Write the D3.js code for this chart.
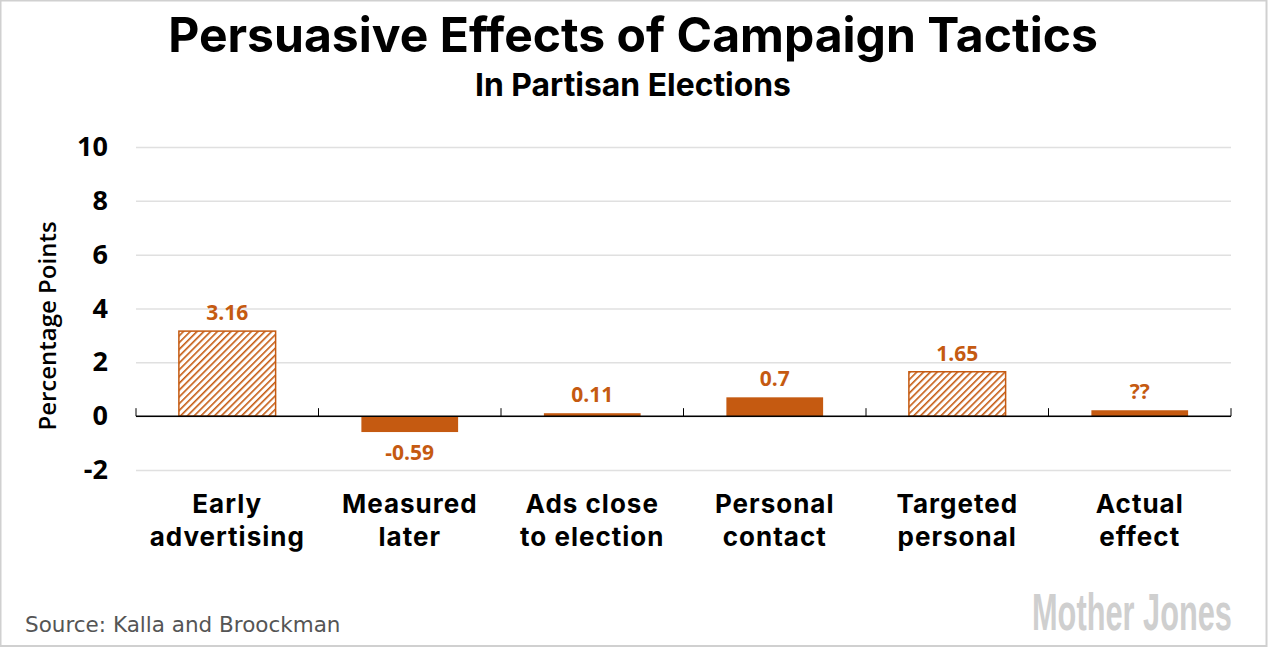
<!DOCTYPE html>
<html>
<head>
<meta charset="utf-8">
<script src="https://cdn.jsdelivr.net/npm/d3@7"></script>
<style>
  body { margin: 0; background: #fff; }
  svg { display: block; }
</style>
</head>
<body>
<div id="chart"></div>
<script>
var categories = [['Early', 'advertising'], ['Measured', 'later'], ['Ads close', 'to election'],
  ['Personal', 'contact'], ['Targeted', 'personal'], ['Actual', 'effect']];
var values = [3.16, -0.59, 0.11, 0.7, 1.65, 0.22];
var valueLabels = ['3.16', '-0.59', '0.11', '0.7', '1.65', '??'];
var hatched = [true, false, false, false, true, false];
var yTicks = [-2, 0, 2, 4, 6, 8, 10];

var W = 1269, H = 647;
var margin = { top: 147, right: 38, bottom: 177, left: 136 },
  width = W - margin.left - margin.right,
  height = H - margin.top - margin.bottom;
var orange = '#c55a11';
var font = '"Open Sans", sans-serif';

var svg = d3.select('#chart').append('svg')
  .attr('width', W)
  .attr('height', H);

// hatch pattern
var defs = svg.append('defs');
var pat = defs.append('pattern')
  .attr('id', 'hatch')
  .attr('patternUnits', 'userSpaceOnUse')
  .attr('width', 4.8)
  .attr('height', 4.8)
  .attr('patternTransform', 'rotate(45)');
pat.append('rect').attr('width', 4.8).attr('height', 4.8).attr('fill', '#fff');
pat.append('line')
  .attr('x1', 0).attr('y1', 0).attr('x2', 0).attr('y2', 4.8)
  .attr('stroke', orange).attr('stroke-width', 3.2);

// frame
svg.append('rect')
  .attr('x', 0.5).attr('y', 0.5)
  .attr('width', W - 3).attr('height', H - 1.5)
  .attr('fill', 'none').attr('stroke', '#d0d0d0').attr('stroke-width', 2);

// title + subtitle, sized to the reference widths
function fitText(sel, target, size) {
  sel.style('font-size', size + 'px');
  var len = sel.node().getComputedTextLength();
  var s = size * target / len;
  sel.style('font-size', s + 'px');
  return s;
}
var title = svg.append('text')
  .attr('x', 633).attr('y', 52)
  .attr('text-anchor', 'middle')
  .style('font-family', 'Inter, sans-serif').style('font-weight', 700)
  .text('Persuasive Effects of Campaign Tactics');
fitText(title, 930, 46);

var sub = svg.append('text')
  .attr('x', 633).attr('y', 94)
  .attr('text-anchor', 'middle')
  .style('font-family', 'Inter, sans-serif').style('font-weight', 700)
  .text('In Partisan Elections');
fitText(sub, 316, 30);
var tb = title.node().getBBox(), sb = sub.node().getBBox();
if (sb.y < tb.y + tb.height + 1) sub.attr('y', 94 + (tb.y + tb.height + 1 - sb.y));

var g = svg.append('g')
  .attr('transform', 'translate(' + margin.left + ',' + margin.top + ')');

var x = d3.scaleBand().domain(d3.range(categories.length)).range([0, width]).paddingInner(0.47).paddingOuter(0.235);
var y = d3.scaleLinear().domain([-2, 10]).range([height, 0]);

// gridlines + tick labels
var yAxis = g.append('g')
  .call(d3.axisLeft(y).tickValues(yTicks).tickSize(-width).tickPadding(28)
    .tickFormat(function (d) { return String(d); }));
yAxis.select('.domain').remove();
yAxis.selectAll('.tick line').attr('stroke', '#e0e0e0').attr('stroke-width', 1.5);
yAxis.selectAll('text')
  .style('font-family', font).style('font-weight', 700).style('font-size', '27px')
  .attr('fill', '#000');

svg.append('text')
  .attr('transform', 'translate(56,326) rotate(-90)')
  .attr('text-anchor', 'middle')
  .style('font-family', font).style('font-weight', 600).style('font-size', '24px')
  .text('Percentage Points');

// bars
g.selectAll('.bar')
  .data(values)
  .enter()
  .append('rect')
  .attr('class', 'bar')
  .attr('x', function (d, i) { return x(i); })
  .attr('width', x.bandwidth())
  .attr('y', function (d) { return y(Math.max(0, d)); })
  .attr('height', function (d) { return Math.abs(y(d) - y(0)); })
  .attr('fill', function (d, i) { return hatched[i] ? 'url(#hatch)' : orange; })
  .attr('stroke', function (d, i) { return hatched[i] ? orange : 'none'; })
  .attr('stroke-width', 1.5);

// value labels
g.selectAll('.val')
  .data(values)
  .enter()
  .append('text')
  .attr('class', 'val')
  .attr('x', function (d, i) { return x(i) + x.bandwidth() / 2; })
  .attr('y', function (d) { return d >= 0 ? y(d) - 11 : y(d) + 28; })
  .attr('text-anchor', 'middle')
  .attr('fill', orange)
  .style('font-family', font).style('font-weight', 700).style('font-size', '21px')
  .text(function (d, i) { return valueLabels[i]; });

// zero line with category boundary ticks
var step = width / categories.length;
g.append('line')
  .attr('x1', 0).attr('x2', width)
  .attr('y1', y(0)).attr('y2', y(0))
  .attr('stroke', '#000').attr('stroke-width', 1.5);
g.selectAll('.btick')
  .data(d3.range(categories.length + 1))
  .enter()
  .append('line')
  .attr('x1', function (d) { return d * step; })
  .attr('x2', function (d) { return d * step; })
  .attr('y1', y(0)).attr('y2', y(0) - 8)
  .attr('stroke', '#000').attr('stroke-width', 1);

// category labels, one text per line
categories.forEach(function (lines, i) {
  lines.forEach(function (line, j) {
    g.append('text')
      .attr('class', 'cat')
      .attr('x', x(i) + x.bandwidth() / 2)
      .attr('y', height + 43 + j * 33)
      .attr('text-anchor', 'middle')
      .style('font-family', 'Inter, sans-serif').style('font-weight', 700).style('font-size', '26px')
      .style('letter-spacing', '1px')
      .text(line);
  });
});

svg.append('text')
  .attr('x', 25).attr('y', 632)
  .attr('fill', '#555')
  .style('font-family', '"DejaVu Sans", Verdana, sans-serif').style('font-size', '21.5px')
  .text('Source: Kalla and Broockman');

var logo = svg.append('text')
  .attr('fill', '#cfcfcf')
  .style('font-family', '"Liberation Sans Narrow", "Liberation Sans", sans-serif')
  .style('font-weight', 700).style('font-size', '52px')
  .text('Mother Jones');
var logoLen = logo.node().getComputedTextLength();
logo.attr('transform', 'translate(1032,630) scale(' + (200 / logoLen) + ',1)');
</script>
</body>
</html>
